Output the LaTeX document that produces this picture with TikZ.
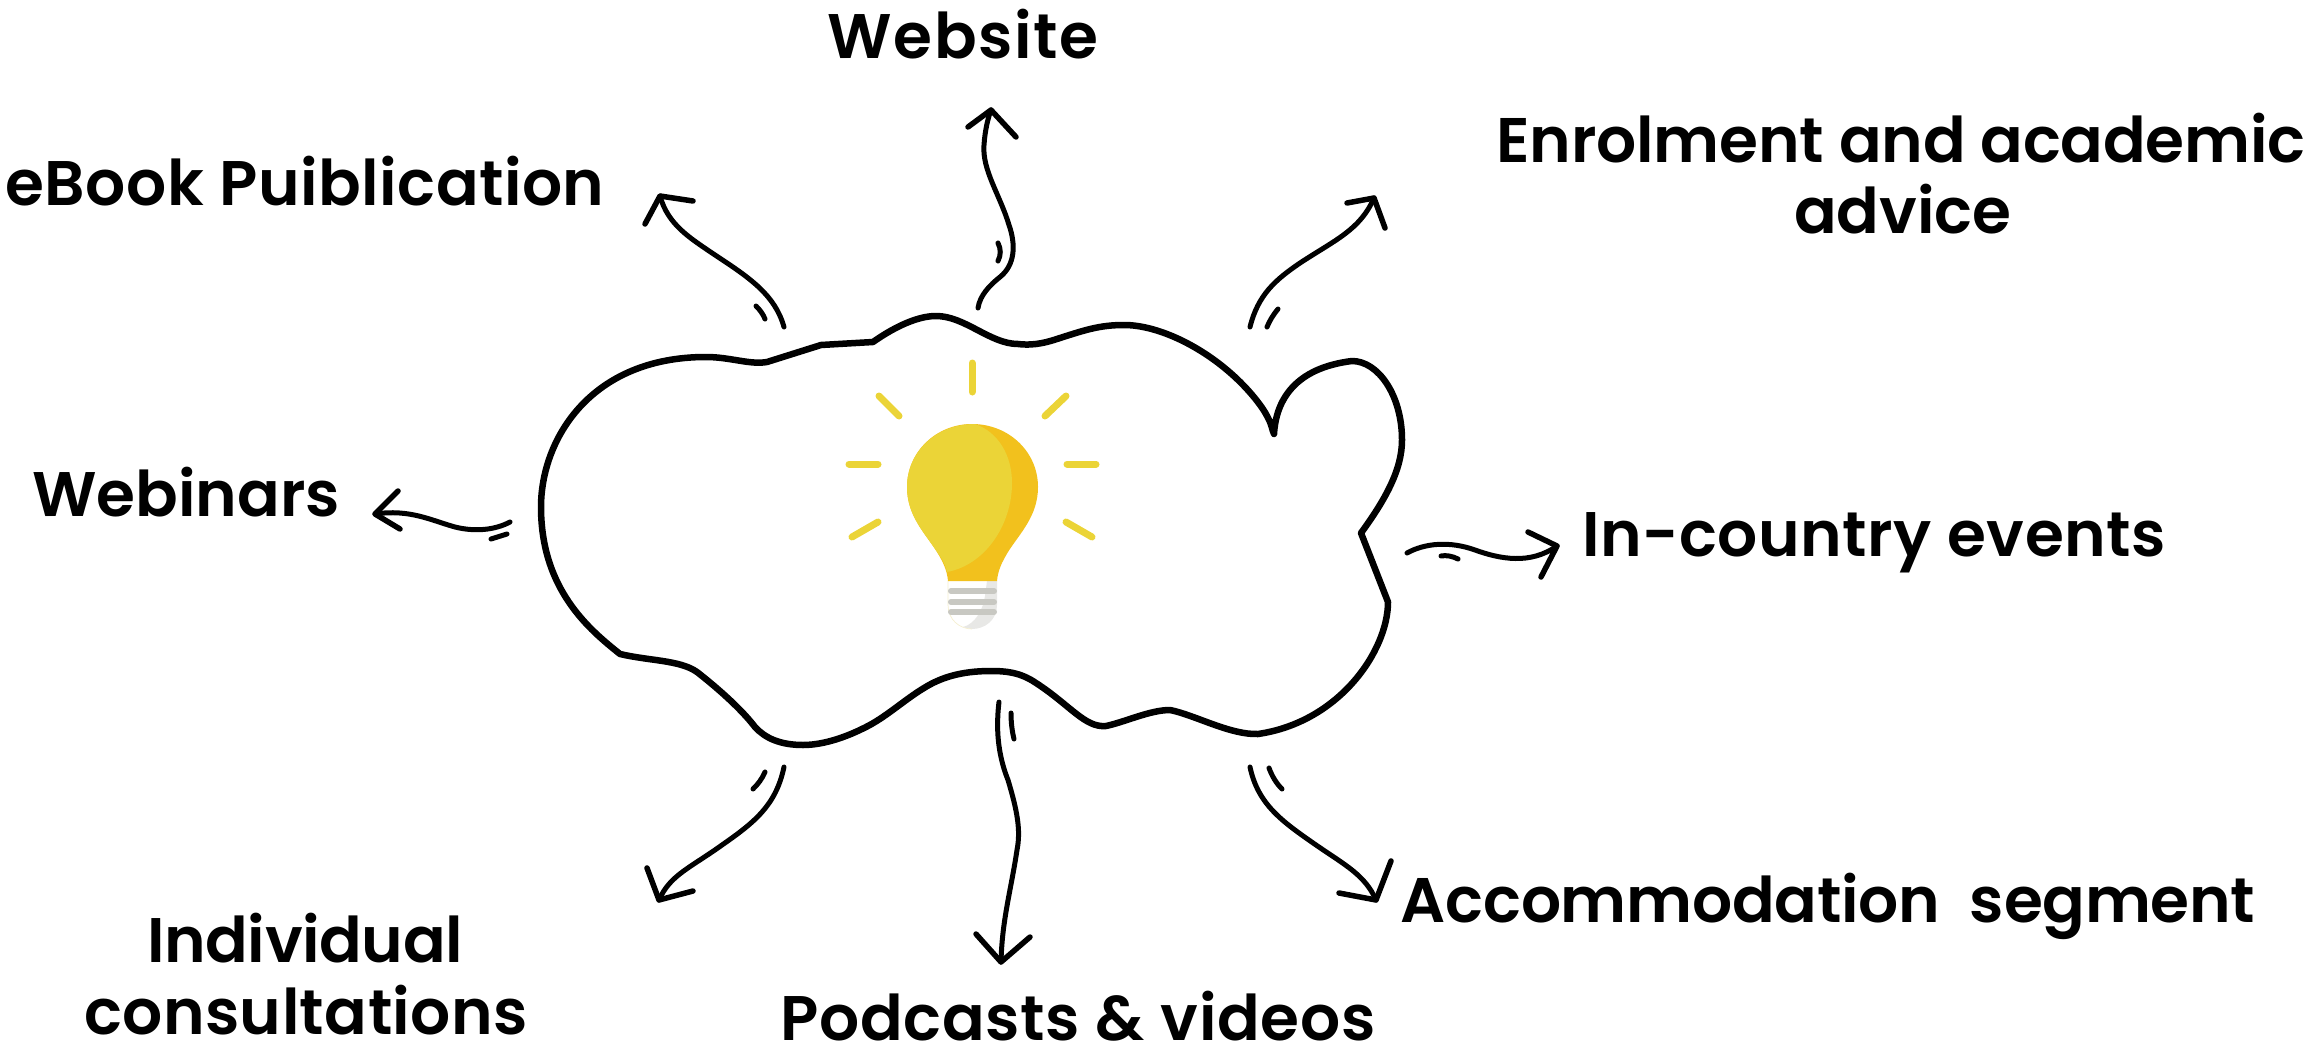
\documentclass[tikz,border=0pt]{standalone}
\usepackage{fontspec}
\setmainfont{Poppins}[BoldFont=* SemiBold]
\definecolor{bulbdark}{HTML}{F2C11D}
\definecolor{bulblight}{HTML}{EBD437}
\definecolor{bulbshade}{HTML}{E8E8E6}
\definecolor{bulbthread}{HTML}{C8C8C2}
\definecolor{bulbedge}{HTML}{F5EFD0}
\newcommand{\spaced}[1]{\addfontfeature{LetterSpace=#1}}
\tikzset{
  label text/.style={font=\fontsize{63}{72}\selectfont\bfseries, inner sep=0pt, anchor=base, text=black, text depth=0pt},
  sketch/.style={draw=black, line width=5pt, line cap=round, line join=round},
  outline/.style={draw=black, line width=6.5pt, line cap=round, line join=round},
  barb/.style={draw=black, line width=5.5pt, line cap=round, line join=round},
  tick/.style={draw=black, line width=5pt, line cap=round},
  ray/.style={draw=bulblight, line width=7pt, line cap=round},
  thread/.style={draw=bulbthread, line width=6pt, line cap=round},
}
\begin{document}
\begin{tikzpicture}[x=1pt,y=-1pt]
\useasboundingbox (0,0) rectangle (2310,1046);
% labels
\node[label text] (website) at (963,59) {\spaced{2.4}Website};
\node[label text] (ebook) at (305,205) {\spaced{0.8}eBook Puiblication};
\node[label text] (enrol1) at (1901,162) {\spaced{-0.3}Enrolment and academic};
\node[label text] (enrol2) at (1903,233) {advice};
\node[label text] (webinars) at (186,516) {Webinars};
\node[label text] (incountry) at (1874,556) {\spaced{0.8}In-country events};
\node[label text] (indiv1) at (305,962) {\spaced{-0.6}Individual};
\node[label text] (indiv2) at (306,1034) {\spaced{0.7}consultations};
\node[label text] (podcasts) at (1078,1040) {\spaced{1.1}Podcasts \& videos};
\node[label text] (accom) at (1828,922) {\spaced{-0.4}Accommodation\ \ segment};
% cloud outline
\coordinate (cornerA) at (1361,533);
\coordinate (cornerB) at (1274,434);
\draw[outline]
 (cornerA) -- (1388,602)
 .. controls (1388,650) and (1340,722) .. (1258,734)
 .. controls (1230,735) and (1195,715) .. (1170,710)
 .. controls (1150,710) and (1125,722) .. (1106,726)
 .. controls (1085,728) and (1070,705) .. (1036,683)
 .. controls (1020,672) and (1005,671) .. (991,671)
 .. controls (960,671) and (940,678) .. (924,688)
 .. controls (904,700) and (885,718) .. (864,728)
 .. controls (848,736) and (825,745) .. (803,745)
 .. controls (780,745) and (765,738) .. (755,727)
 .. controls (742,710) and (720,690) .. (697,672)
 .. controls (680,660) and (650,661) .. (620,654)
 .. controls (590,630) and (541,590) .. (541,507)
 .. controls (541,440) and (590,357) .. (706,357)
 .. controls (730,357) and (750,365) .. (767,362)
 -- (821,345) -- (873,342)
 .. controls (890,330) and (915,316) .. (936,316)
 .. controls (965,316) and (990,344) .. (1018,344)
 .. controls (1035,346) and (1048,342) .. (1060,338)
 .. controls (1085,330) and (1100,325) .. (1124,325)
 .. controls (1155,325) and (1195,343) .. (1227,370)
 .. controls (1245,385) and (1262,405) .. (1268,418)
 .. controls (1272,425) and (1272,430) .. (cornerB)
 .. controls (1276,400) and (1295,368) .. (1352,361)
 .. controls (1378,361) and (1402,395) .. (1402,440)
 .. controls (1402,470) and (1385,500) .. (cornerA);
% connectors
\coordinate (s1) at (784,327); \coordinate (e1) at (660,196);
\draw[sketch] (s1) .. controls (775,295) and (750,278) .. (715,255) .. controls (690,238) and (668,225) .. (e1);
\draw[barb] (645,224) -- (e1) -- (693,201);
\draw[tick] (756,306) .. controls (760,310) and (763,314) .. (765,319);
\coordinate (s2) at (978,308); \coordinate (e2) at (991,110);
\draw[sketch] (s2) .. controls (980,295) and (990,285) .. (1000,277) .. controls (1015,265) and (1016,245) .. (1009,225) .. controls (1000,195) and (982,170) .. (984,145) .. controls (985,130) and (988,118) .. (e2);
\draw[barb] (968,127) -- (e2) -- (1016,137);
\draw[tick] (998,243) .. controls (1001,249) and (1001,255) .. (998,261);
\coordinate (s3) at (1250,327); \coordinate (e3) at (1374,198);
\draw[sketch] (s3) .. controls (1258,295) and (1275,280) .. (1300,263) .. controls (1335,240) and (1360,230) .. (e3);
\draw[barb] (1347,203) -- (e3) -- (1385,228);
\draw[tick] (1278,309) .. controls (1273,315) and (1270,320) .. (1267,327);
\coordinate (s4) at (510,522); \coordinate (e4) at (375,514);
\draw[sketch] (s4) .. controls (495,530) and (475,532) .. (455,527) .. controls (430,520) and (410,509) .. (e4);
\draw[barb] (398,491) -- (e4) -- (400,529);
\draw[tick] (507,534) -- (491,539);
\coordinate (s5) at (1407,553); \coordinate (e5) at (1557,546);
\draw[sketch] (s5) .. controls (1425,543) and (1450,541) .. (1475,550) .. controls (1500,559) and (1530,565) .. (e5);
\draw[barb] (1528,532) -- (e5) -- (1541,577);
\draw[tick] (1441,556) .. controls (1446,555) and (1452,556) .. (1458,559);
\coordinate (s6) at (784,767); \coordinate (e6) at (659,900);
\draw[sketch] (s6) .. controls (776,805) and (755,822) .. (722,845) .. controls (690,868) and (670,875) .. (e6);
\draw[barb] (647,868) -- (e6) -- (693,891);
\draw[tick] (765,772) .. controls (762,779) and (758,784) .. (753,789);
\coordinate (s7) at (999,702); \coordinate (e7) at (1001,962);
\draw[sketch] (s7) .. controls (995,735) and (1000,760) .. (1008,780) .. controls (1017,810) and (1021,830) .. (1017,850) .. controls (1011,890) and (1002,920) .. (e7);
\draw[barb] (976,934) -- (e7) -- (1030,937);
\draw[tick] (1011,713) .. controls (1011,722) and (1012,731) .. (1014,739);
\coordinate (s8) at (1250,767); \coordinate (e8) at (1376,900);
\draw[sketch] (s8) .. controls (1258,805) and (1283,822) .. (1316,845) .. controls (1345,865) and (1365,875) .. (e8);
\draw[barb] (1339,893) -- (e8) -- (1391,861);
\draw[tick] (1269,768) .. controls (1272,776) and (1276,783) .. (1282,789);
% bulb: base
\fill[white] (948,581) -- (997,581) -- (997,605) .. controls (997,620) and (985,629) .. (972,629) .. controls (960,629) and (948,620) .. (948,605) -- cycle;
\fill[bulbshade] (987,581) -- (997,581) -- (997,605) .. controls (997,620) and (985,629) .. (972,629) .. controls (969,629) and (966,628) .. (963,627) .. controls (975,624) and (983,610) .. (985,596) -- cycle;
\draw[bulbedge, line width=.7pt] (948,581) -- (948,605) .. controls (948,620) and (960,629) .. (972,629);
\draw[thread] (951,591) -- (994,591);
\draw[thread] (951,602) -- (994,602);
\draw[thread] (951,612) -- (994,612);
% bulb: glass
\fill[bulbdark] (972,424) .. controls (1009,424) and (1038,452) .. (1038,487)
  .. controls (1038,516) and (1020,533) .. (1008,552) .. controls (1002,562) and (998,570) .. (997,581)
  -- (948,581) .. controls (947,570) and (943,562) .. (937,552)
  .. controls (925,533) and (907,516) .. (907,487) .. controls (907,452) and (936,424) .. (972,424) -- cycle;
\fill[bulblight] (975,424) .. controls (998,432) and (1012,455) .. (1012,483)
  .. controls (1012,525) and (985,565) .. (947,572)
  .. controls (945,564) and (943,560) .. (937,552)
  .. controls (925,533) and (907,516) .. (907,487) .. controls (907,452) and (936,424) .. (975,424) -- cycle;
% rays
\draw[ray] (972,363) -- (972,392);
\draw[ray] (879,396) -- (899,416);
\draw[ray] (1066,396) -- (1045,416);
\draw[ray] (849,464) -- (878,464);
\draw[ray] (1067,464) -- (1096,464);
\draw[ray] (852,537) -- (878,522);
\draw[ray] (1066,522) -- (1092,537);
\end{tikzpicture}
\end{document}
